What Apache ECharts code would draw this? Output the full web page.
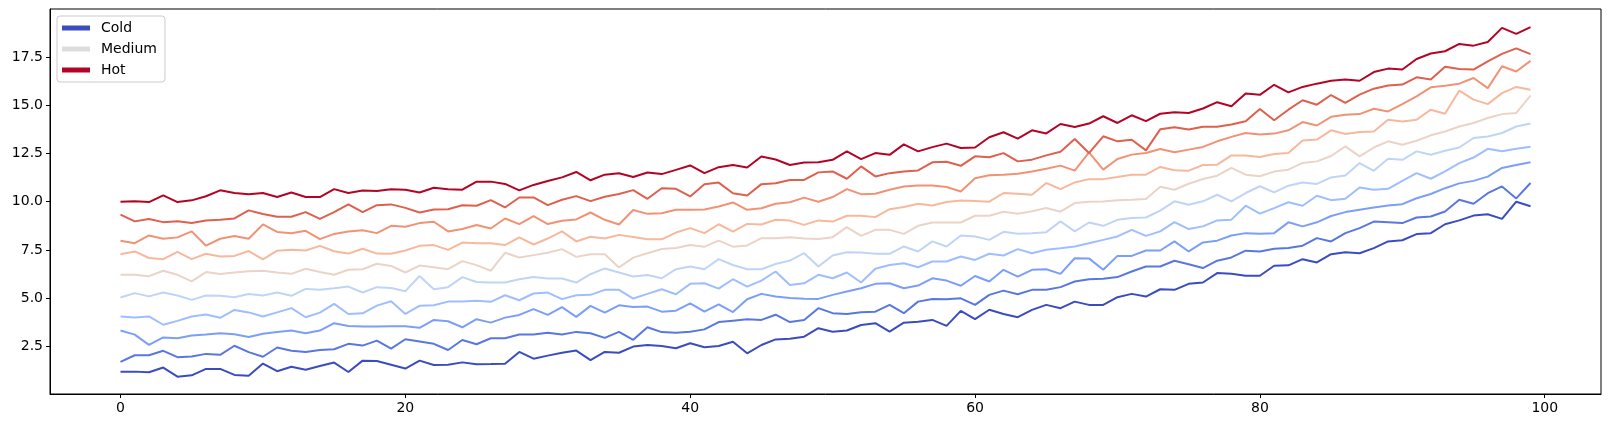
<!DOCTYPE html>
<html>
<head>
<meta charset="utf-8">
<script src="https://cdn.jsdelivr.net/npm/echarts@6/dist/echarts.min.js"></script>
<style>
  html, body { margin: 0; padding: 0; background: #fff; }
  #chart { width: 1610px; height: 428px; }
</style>
</head>
<body>
<div id="chart"></div>
<script>
// ten noisy rising lines (x = 0..99)
const line0 = [1.19, 1.19, 1.16, 1.40, 0.93, 1.00, 1.33, 1.33, 1.02, 0.97, 1.61, 1.21, 1.44,
  1.29, 1.48, 1.66, 1.17, 1.76, 1.74, 1.55, 1.35, 1.76, 1.53, 1.55, 1.67,
  1.57, 1.58, 1.60, 2.21, 1.86, 2.02, 2.17, 2.28, 1.79, 2.21, 2.17, 2.49,
  2.57, 2.52, 2.40, 2.66, 2.45, 2.52, 2.74, 2.14, 2.57, 2.86, 2.90, 3.00,
  3.44, 3.26, 3.32, 3.61, 3.70, 3.26, 3.73, 3.78, 3.87, 3.56, 4.34, 3.91,
  4.40, 4.18, 4.01, 4.39, 4.65, 4.48, 4.82, 4.65, 4.65, 5.05, 5.22, 5.08, 5.46,
  5.43, 5.74, 5.81, 6.30, 6.26, 6.16, 6.16, 6.68, 6.70, 7.02, 6.85, 7.28,
  7.38, 7.33, 7.59, 7.94, 8.00, 8.32, 8.37, 8.83, 9.03, 9.28, 9.35, 9.11,
  10.00, 9.76]
const line1 = [1.70, 2.04, 2.04, 2.27, 1.94, 1.97, 2.11, 2.06, 2.53, 2.20, 1.96, 2.44, 2.27,
  2.21, 2.31, 2.35, 2.63, 2.54, 2.80, 2.38, 2.87, 2.75, 2.63, 2.31, 2.83,
  2.61, 2.92, 2.92, 3.11, 3.11, 3.20, 3.11, 3.25, 3.18, 2.94, 3.25, 2.84,
  3.49, 3.24, 3.21, 3.26, 3.38, 3.76, 3.83, 3.90, 3.87, 4.14, 3.76, 3.87,
  4.48, 4.22, 4.18, 4.27, 4.30, 4.65, 4.22, 4.82, 4.96, 4.94, 4.99, 4.65,
  5.17, 5.39, 5.20, 5.43, 5.43, 5.57, 5.86, 5.98, 6.00, 6.09, 6.38, 6.64, 6.64,
  6.94, 6.76, 6.56, 6.94, 7.11, 7.46, 7.42, 7.56, 7.60, 7.72, 8.11, 7.94,
  8.37, 8.63, 8.97, 8.94, 8.89, 9.18, 9.23, 9.49, 10.10, 9.89, 10.44, 10.79,
  10.17, 10.97]
const line2 = [3.32, 3.11, 2.58, 2.96, 2.92, 3.06, 3.11, 3.18, 3.13, 2.98, 3.15, 3.25, 3.32,
  3.18, 3.32, 3.70, 3.56, 3.53, 3.53, 3.54, 3.54, 3.46, 3.87, 3.80, 3.49,
  3.91, 3.73, 3.99, 4.13, 4.43, 4.13, 4.53, 4.03, 4.60, 4.25, 4.63, 4.54,
  4.56, 4.30, 4.35, 4.73, 4.30, 4.68, 4.28, 4.94, 5.22, 5.08, 5.01, 4.97,
  4.96, 5.17, 5.34, 5.51, 5.74, 5.77, 5.51, 5.65, 6.03, 5.91, 5.64, 6.15,
  5.86, 6.47, 6.12, 6.47, 6.50, 6.26, 7.07, 7.06, 6.47, 7.19, 7.19, 7.47, 7.47,
  7.94, 7.42, 7.89, 7.98, 8.25, 8.37, 8.34, 8.37, 8.93, 8.72, 8.93, 9.26,
  9.46, 9.58, 9.70, 9.80, 9.87, 10.18, 10.40, 10.70, 10.95, 11.08, 11.30, 11.75,
  11.90, 12.05]
const line3 = [4.05, 4.00, 4.05, 3.62, 3.82, 4.05, 4.15, 3.98, 4.39, 4.26, 4.05, 4.26, 4.48,
  4.01, 4.25, 4.70, 4.18, 4.21, 4.61, 4.84, 4.18, 4.60, 4.63, 4.82, 4.82,
  4.86, 4.81, 5.15, 4.89, 5.24, 5.29, 4.95, 5.15, 5.17, 5.43, 5.43, 4.98,
  5.22, 5.46, 5.20, 5.74, 5.77, 5.49, 5.98, 5.60, 5.91, 6.38, 5.68, 5.77,
  6.21, 6.03, 6.33, 5.81, 6.52, 6.72, 6.81, 6.60, 6.90, 6.90, 7.16, 6.98,
  7.30, 7.21, 7.54, 7.33, 7.51, 7.59, 7.68, 7.85, 8.02, 8.20, 8.54, 8.23, 8.46,
  8.94, 8.58, 8.72, 9.03, 9.07, 9.79, 9.38, 9.67, 9.97, 9.79, 10.31, 10.08,
  10.15, 10.74, 10.62, 10.67, 11.08, 11.48, 11.19, 11.57, 12.00, 12.29, 12.74, 12.61,
  12.75, 12.85]
const line4 = [5.03, 5.26, 5.09, 5.29, 5.14, 4.91, 5.14, 5.12, 5.05, 5.21, 5.14, 5.29, 5.12,
  5.48, 5.43, 5.51, 5.60, 5.29, 5.57, 5.53, 5.36, 6.15, 5.46, 5.57, 6.09,
  5.84, 5.81, 5.81, 5.98, 6.10, 6.02, 6.02, 5.81, 6.24, 6.54, 6.33, 6.12,
  6.20, 6.03, 6.50, 6.64, 6.50, 7.02, 6.72, 6.50, 6.50, 6.77, 6.95, 7.33,
  6.64, 7.21, 7.38, 7.37, 7.30, 7.30, 7.68, 7.42, 7.94, 7.68, 8.25, 8.20,
  8.02, 8.44, 8.34, 8.37, 8.42, 8.98, 8.46, 8.92, 8.75, 9.06, 9.15, 9.18, 9.54,
  10.02, 9.84, 10.02, 10.36, 10.02, 10.45, 10.80, 10.48, 10.83, 11.00, 10.92, 11.26,
  11.36, 12.00, 11.60, 12.23, 12.17, 12.61, 12.43, 12.64, 12.81, 13.30, 13.38, 13.56,
  13.90, 14.05]
const line5 = [6.21, 6.21, 6.14, 6.42, 6.21, 5.87, 6.35, 6.25, 6.33, 6.40, 6.42, 6.33, 6.26,
  6.52, 6.35, 6.21, 6.47, 6.50, 6.78, 6.67, 6.33, 6.69, 6.60, 6.50, 6.92,
  6.71, 6.42, 7.35, 7.11, 7.23, 7.35, 7.54, 7.14, 7.28, 7.28, 6.59, 7.10,
  7.33, 7.55, 7.60, 7.76, 7.67, 7.98, 7.67, 7.73, 8.11, 8.11, 8.16, 8.09,
  8.06, 8.16, 8.68, 8.23, 8.54, 8.54, 8.33, 8.75, 8.92, 8.92, 8.92, 9.27,
  9.27, 9.48, 9.37, 9.50, 9.67, 9.48, 9.93, 10.00, 10.01, 10.07, 10.10, 10.14, 10.77,
  10.62, 10.93, 11.18, 11.35, 11.75, 11.40, 11.32, 11.56, 11.66, 12.01, 12.09, 12.37,
  12.87, 12.35, 12.81, 13.13, 12.95, 13.16, 13.44, 13.64, 13.90, 14.08, 14.34, 14.54,
  14.60, 15.50]
const line6 = [7.28, 7.42, 7.08, 7.02, 7.40, 7.02, 7.30, 7.16, 7.19, 7.44, 7.01, 7.46, 7.51,
  7.47, 7.71, 7.43, 7.31, 7.56, 7.31, 7.30, 7.47, 7.71, 7.75, 7.50, 7.88,
  7.85, 7.84, 7.75, 8.15, 7.78, 8.09, 8.46, 7.94, 8.18, 8.09, 8.28, 8.17,
  8.05, 8.05, 8.40, 8.63, 8.37, 8.83, 8.45, 8.85, 8.82, 9.06, 9.02, 8.80,
  9.03, 8.97, 9.27, 9.27, 9.20, 9.61, 9.72, 9.89, 9.80, 9.98, 10.06, 10.03,
  10.00, 10.45, 10.41, 10.36, 10.97, 10.65, 11.00, 11.17, 11.17, 11.28, 11.40, 11.40, 11.80,
  11.63, 11.61, 11.90, 11.92, 12.40, 12.39, 12.32, 12.47, 12.53, 13.17, 13.22, 13.70,
  13.51, 13.61, 13.64, 14.25, 14.16, 14.25, 14.77, 14.56, 15.76, 15.29, 15.06, 15.63,
  15.95, 15.80]
const line7 = [7.98, 7.85, 8.25, 8.08, 8.15, 8.46, 7.72, 8.08, 8.22, 8.08, 8.82, 8.43, 8.36,
  8.49, 8.06, 8.33, 8.46, 8.52, 8.37, 8.75, 8.70, 8.89, 8.96, 8.46, 8.58,
  8.79, 8.61, 9.13, 8.84, 9.25, 8.84, 9.01, 9.08, 9.44, 9.06, 8.82, 9.57,
  9.37, 9.40, 9.58, 9.58, 9.59, 9.75, 9.96, 9.58, 9.66, 9.89, 9.97, 10.21,
  10.00, 10.24, 10.65, 10.39, 10.41, 10.62, 10.79, 10.84, 10.84, 10.76, 10.53, 11.22,
  11.37, 11.40, 11.45, 11.57, 11.71, 11.87, 11.61, 12.56, 11.66, 12.21, 12.44, 12.52, 12.73,
  12.56, 12.70, 12.84, 13.13, 13.36, 13.56, 13.48, 13.53, 13.70, 14.13, 13.95, 14.40,
  14.51, 14.54, 14.82, 14.68, 15.06, 15.46, 15.93, 16.01, 16.12, 16.41, 15.89, 17.02,
  16.75, 17.30]
const line8 = [9.33, 8.98, 9.10, 8.94, 8.98, 8.89, 9.03, 9.07, 9.13, 9.55, 9.36, 9.22, 9.22,
  9.46, 9.11, 9.46, 9.86, 9.46, 9.82, 9.86, 9.68, 9.44, 9.60, 9.61, 9.82,
  9.79, 10.08, 9.70, 10.22, 10.22, 9.82, 10.10, 10.29, 10.03, 10.26, 10.40, 10.60,
  10.15, 10.70, 10.67, 10.27, 10.91, 10.99, 10.44, 10.32, 10.91, 10.96, 11.12, 11.13,
  11.52, 11.57, 11.19, 11.83, 11.31, 11.48, 11.57, 11.62, 12.04, 12.07, 11.86, 12.35,
  12.30, 12.52, 12.09, 12.18, 12.40, 12.59, 13.25, 12.52, 13.39, 13.13, 13.21, 12.66, 13.75,
  13.86, 13.74, 13.88, 13.88, 14.00, 14.17, 14.81, 14.22, 14.77, 15.26, 15.03, 15.53,
  15.12, 15.55, 15.86, 16.02, 16.07, 16.45, 16.33, 17.00, 16.88, 16.85, 17.28, 17.66,
  17.95, 17.65]
const line9 = [10.00, 10.02, 9.98, 10.33, 9.98, 10.07, 10.28, 10.59, 10.45, 10.38, 10.45, 10.24, 10.48,
  10.24, 10.24, 10.65, 10.45, 10.58, 10.55, 10.65, 10.62, 10.48, 10.72, 10.65, 10.62,
  11.04, 11.04, 10.92, 10.59, 10.87, 11.07, 11.26, 11.54, 11.11, 11.40, 11.47, 11.28,
  11.51, 11.43, 11.65, 11.88, 11.48, 11.79, 11.90, 11.77, 12.34, 12.19, 11.90, 12.03,
  12.04, 12.17, 12.61, 12.21, 12.52, 12.43, 12.97, 12.61, 12.83, 13.01, 12.78, 12.81,
  13.34, 13.60, 13.27, 13.70, 13.54, 14.03, 13.87, 14.05, 14.43, 14.08, 14.48, 14.18, 14.56,
  14.64, 14.60, 14.83, 15.16, 14.95, 15.61, 15.54, 16.06, 15.67, 15.95, 16.12, 16.27,
  16.33, 16.27, 16.72, 16.90, 16.85, 17.40, 17.68, 17.80, 18.18, 18.09, 18.28, 19.01,
  18.70, 19.05]

const lines = [line0, line1, line2, line3, line4, line5, line6, line7, line8, line9]
// coolwarm, sampled at 10 steps
const lineColors = ['#3b4cc0', '#5977e3', '#7b9ff9', '#9ebeff', '#c0d4f5',
  '#ebd3c6', '#f7b89c', '#f29274', '#de604d', '#b40426']
const legendNames = ['Cold', 'Medium', 'Hot']
const legendColors = ['#3b4cc0', '#dddddd', '#b40426']
const legendSeries = { 0: 'Cold', 5: 'Medium', 9: 'Hot' }
const xTicks = [0, 20, 40, 60, 80, 100]
const yTicks = [2.5, 5, 7.5, 10, 12.5, 15, 17.5]

const FONT = 'DejaVu Sans'

const buildSeries = () => {
  return lines.map((values, i) => ({
    name: legendSeries[i] || 'line ' + i,
    type: 'line',
    data: values.map((v, x) => [x, v]),
    showSymbol: false,
    symbol: 'none',
    lineStyle: { width: 2, color: lineColors[i] },
    itemStyle: { color: lineColors[i] },
    emphasis: { disabled: true },
  }))
}

const axisCommon = {
  type: 'value',
  splitLine: { show: false },
  axisLine: { show: true, onZero: false, lineStyle: { color: '#000', width: 1 } },
}

const option = {
  animation: false,
  backgroundColor: '#fff',
  grid: {
    left: 50,
    right: 9,
    top: 9,
    bottom: 34,
    show: true,
    borderColor: '#000',
    borderWidth: 1,
    backgroundColor: 'transparent',
  },
  legend: {
    orient: 'vertical',
    left: 57,
    top: 16,
    data: legendNames.map((n, i) => ({ name: n, itemStyle: { color: legendColors[i] } })),
    icon: 'rect',
    itemWidth: 28,
    itemHeight: 5,
    itemGap: 5,
    padding: [4, 8, 4, 5],
    backgroundColor: 'rgba(255,255,255,0.8)',
    borderColor: '#cccccc',
    borderWidth: 1,
    borderRadius: 3,
    selectedMode: false,
    textStyle: {
      fontFamily: FONT,
      fontSize: 14,
      lineHeight: 16,
      color: '#000',
      padding: [0, 0, 0, 6],
    },
  },
  xAxis: {
    ...axisCommon,
    min: -4.95,
    max: 103.95,
    axisTick: { show: true, customValues: xTicks, length: 4, lineStyle: { color: '#000' } },
    axisLabel: { customValues: xTicks, fontFamily: FONT, fontSize: 14, color: '#000', margin: 7 },
  },
  yAxis: {
    ...axisCommon,
    min: 0.03,
    max: 19.99,
    axisTick: { show: true, customValues: yTicks, length: 4, lineStyle: { color: '#000' } },
    axisLabel: {
      customValues: yTicks,
      fontFamily: FONT,
      fontSize: 14,
      color: '#000',
      margin: 7,
      formatter: (v) => v.toFixed(1),
    },
  },
  series: buildSeries(),
}

const myChart = echarts.init(document.getElementById('chart'), null, { renderer: 'canvas' })
myChart.setOption(option)
</script>
</body>
</html>
